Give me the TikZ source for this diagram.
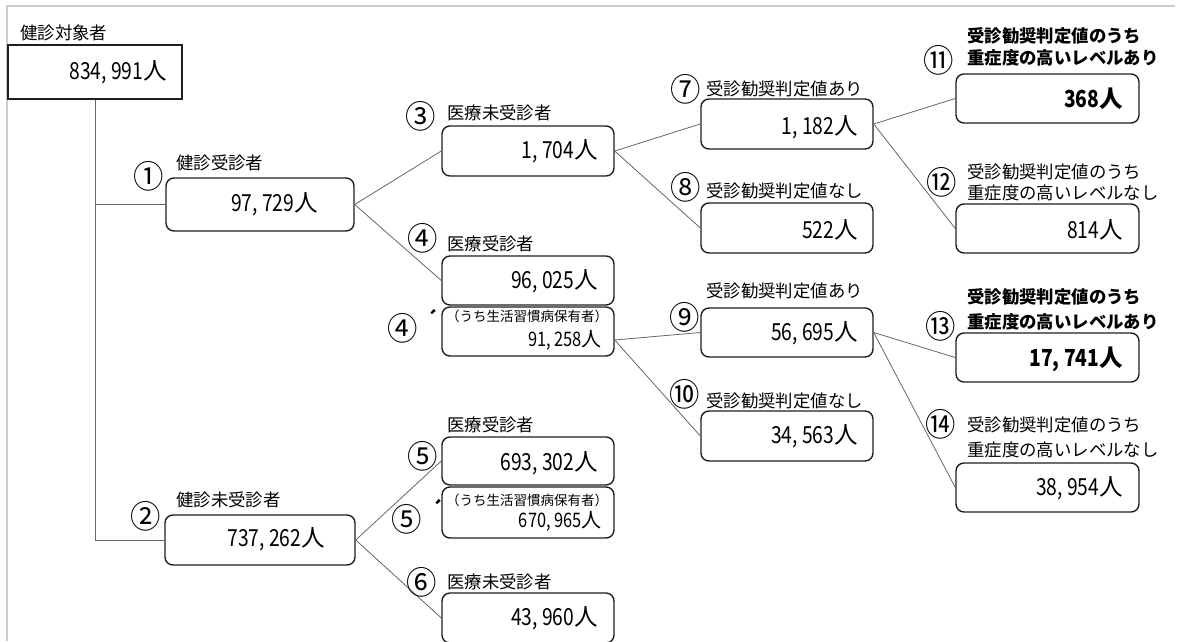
\documentclass[tikz,border=0pt]{standalone}
\usepackage{fontspec}
\setmainfont{Noto Sans CJK JP}
\newfontfamily\numf{Noto Sans CJK JP}[FakeStretch=0.82]
\newfontfamily\circf{Noto Sans CJK JP}[FakeStretch=0.95]
\definecolor{boxc}{gray}{0.12}
\definecolor{connc}{gray}{0.40}
\definecolor{framec}{gray}{0.80}
\newcommand\nm[1]{{\numf #1}人}
\tikzset{
 box/.style={draw=boxc, line width=1.4pt, rounded corners=8pt, inner sep=0pt},
 sqbox/.style={draw=boxc, line width=1.2pt, inner sep=0pt},
 lab/.style={anchor=west, inner sep=0pt, font=\fontsize{17.4}{20}\selectfont},
 blab/.style={anchor=west, inner sep=0pt, font=\fontsize{17.4}{20}\selectfont\bfseries},
 circ/.style={inner sep=0pt, font=\fontsize{32}{32}\selectfont\circf},
 num/.style={anchor=east, inner sep=0pt, font=\fontsize{23.5}{24}\selectfont},
 bnum/.style={anchor=east, inner sep=0pt, font=\fontsize{23.5}{24}\selectfont\bfseries},
 snum/.style={anchor=east, inner sep=0pt, font=\fontsize{20}{20}\selectfont},
 small/.style={inner sep=0pt, font=\fontsize{13.5}{16}\selectfont},
 acc/.style={inner sep=0pt, font=\fontsize{18}{18}\selectfont\bfseries},
 conn/.style={draw=connc, line width=0.8pt},
}
\begin{document}
\begin{tikzpicture}[x=1pt,y=-1pt]
\useasboundingbox (0,0) rectangle (1178,641);
\draw[framec, line width=2pt] (7,641) -- (7,6) -- (1175,6);

% boxes
\node[sqbox, minimum width=174pt, minimum height=54pt] (root) at (95,72) {};
\node[box, minimum width=188pt, minimum height=53pt] (b1) at (260,204.5) {};
\node[box, minimum width=190pt, minimum height=50pt] (b2) at (260,540) {};
\node[box, minimum width=172pt, minimum height=50pt] (b3) at (528,151) {};
\node[box, minimum width=172pt, minimum height=49pt] (b4) at (528,280.5) {};
\node[box, minimum width=172pt, minimum height=49pt] (b4s) at (528,331.5) {};
\node[box, minimum width=172pt, minimum height=48pt] (b5) at (528,461) {};
\node[box, minimum width=172pt, minimum height=51pt] (b5s) at (528,512.5) {};
\node[box, minimum width=172pt, minimum height=50pt] (b6) at (528,618) {};
\node[box, minimum width=172pt, minimum height=50pt] (b7) at (787,124) {};
\node[box, minimum width=172pt, minimum height=50pt] (b8) at (787,228) {};
\node[box, minimum width=172pt, minimum height=49pt] (b9) at (787,332.5) {};
\node[box, minimum width=172pt, minimum height=50pt] (b10) at (787,436) {};
\node[box, minimum width=183pt, minimum height=49pt] (b11) at (1047.5,98.5) {};
\node[box, minimum width=183pt, minimum height=49pt] (b12) at (1047.5,228.5) {};
\node[box, minimum width=183pt, minimum height=49pt] (b13) at (1047.5,357.5) {};
\node[box, minimum width=183pt, minimum height=49pt] (b14) at (1047.5,487.5) {};

% connectors
\draw[conn] (root.south) |- (b1.west);
\draw[conn] (root.south) |- (b2.west);
\draw[conn] (b1.east) -- (b3.west);
\draw[conn] (b1.east) -- (b4.west);
\draw[conn] (b2.east) -- (b5.west);
\draw[conn] (b2.east) -- (b6.west);
\draw[conn] (b3.east) -- (b7.west);
\draw[conn] (b3.east) -- (b8.west);
\coordinate (b4sx) at ([yshift=-8.5pt]b4s.east);
\draw[conn] (b4sx) -- (b9.west);
\draw[conn] (b4sx) -- (b10.west);
\draw[conn] (b7.east) -- (b11.west);
\draw[conn] (b7.east) -- (b12.west);
\draw[conn] (b9.east) -- (b13.west);
\draw[conn] (b9.east) -- (b14.west);

% numbers
\node[num] (n0) at (167,72) {\nm{834, 991}};
\node[num] (n1) at (318,204) {\nm{97, 729}};
\node[num] (n2) at (325,539) {\nm{737, 262}};
\node[num] (n3) at (598,151) {\nm{1, 704}};
\node[num] (n4) at (598,281) {\nm{96, 025}};
\node[small] (s4) at (527,316) {（うち生活習慣病保有者）};
\node[snum] (n4s) at (602,340) {\nm{91, 258}};
\node[num] (n5) at (598,463) {\nm{693, 302}};
\node[small] (s5) at (527,500) {（うち生活習慣病保有者）};
\node[snum] (n5s) at (602,521) {\nm{670, 965}};
\node[num] (n6) at (598,618) {\nm{43, 960}};
\node[num] (n7) at (858,127) {\nm{1, 182}};
\node[num] (n8) at (858,230) {\nm{522}};
\node[num] (n9) at (858,333) {\nm{56, 695}};
\node[num] (n10) at (858,436) {\nm{34, 563}};
\node[bnum] (n11) at (1123,99) {\nm{368}};
\node[num] (n12) at (1123,230) {\nm{814}};
\node[bnum] (n13) at (1123,359) {\nm{17, 741}};
\node[num] (n14) at (1123,488) {\nm{38, 954}};

% labels
\node[lab] (l0) at (20,33) {健診対象者};
\node[lab] (l1) at (176,163) {健診受診者};
\node[lab] (l2) at (176,500) {健診未受診者};
\node[lab] (l3) at (447,113) {医療未受診者};
\node[lab] (l4) at (447,244) {医療受診者};
\node[lab] (l5) at (447,425) {医療受診者};
\node[lab] (l6) at (447,582) {医療未受診者};
\node[lab] (l7) at (706,89) {受診勧奨判定値あり};
\node[lab] (l8) at (706,191) {受診勧奨判定値なし};
\node[lab] (l9) at (706,291) {受診勧奨判定値あり};
\node[lab] (l10) at (706,401) {受診勧奨判定値なし};
\node[blab] (l11a) at (967,36) {受診勧奨判定値のうち};
\node[blab] (l11b) at (967,58) {重症度の高いレベルあり};
\node[lab] (l12a) at (967,172) {受診勧奨判定値のうち};
\node[lab] (l12b) at (967,193) {重症度の高いレベルなし};
\node[blab] (l13a) at (967,297) {受診勧奨判定値のうち};
\node[blab] (l13b) at (967,322) {重症度の高いレベルあり};
\node[lab] (l14a) at (967,425) {受診勧奨判定値のうち};
\node[lab] (l14b) at (967,450) {重症度の高いレベルなし};

% circled numbers
\node[circ] (c1) at (149,176) {①};
\node[circ] (c2) at (146,516) {②};
\node[circ] (c3) at (421,116) {③};
\node[circ] (c4) at (423,238) {④};
\node[circ] (c4s) at (403,328) {④};
\node[acc] (a4) at (432,318) {´};
\node[circ] (c5) at (423,456) {⑤};
\node[circ] (c5s) at (407,519) {⑤};
\node[acc] (a5) at (437,508) {´};
\node[circ] (c6) at (422,582) {⑥};
\node[circ] (c7) at (686,89) {⑦};
\node[circ] (c8) at (686,187) {⑧};
\node[circ] (c9) at (685,317) {⑨};
\node[circ] (c10) at (685,394) {⑩};
\node[circ] (c11) at (939,60) {⑪};
\node[circ] (c12) at (942,182) {⑫};
\node[circ] (c13) at (941,326) {⑬};
\node[circ] (c14) at (941,424) {⑭};
\end{tikzpicture}
\end{document}
